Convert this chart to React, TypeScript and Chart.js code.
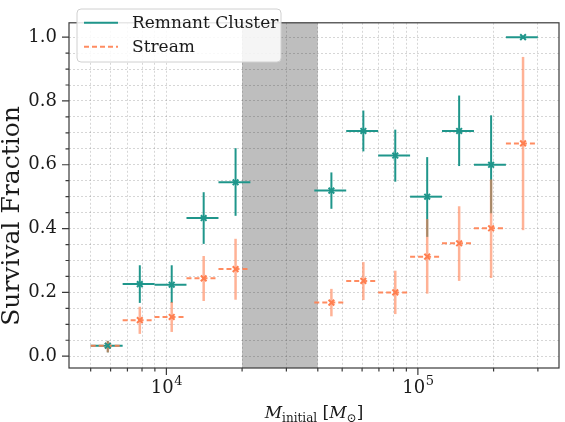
import { useEffect, useRef } from "react";
import { Chart, registerables } from "chart.js";

Chart.register(...registerables);

// mass bins (solar masses): centre and edges of each bin
const BIN_CENTERS = [5850, 7840, 10500, 14070, 18840, 45300, 60700, 81300, 108900, 145900, 195500, 261900];
const BIN_LOW = [5000, 6700, 8970, 12020, 16110, 38730, 51880, 69500, 93110, 124700, 167100, 223900];
const BIN_HIGH = [6700, 8970, 12020, 16110, 21580, 51880, 69500, 93110, 124700, 167100, 223900, 299900];

const REMNANT_FRAC = [0.033, 0.226, 0.224, 0.433, 0.545, 0.519, 0.706, 0.629, 0.5, 0.706, 0.6, 1.0];
const REMNANT_LOW = [0.012, 0.167, 0.167, 0.352, 0.44, 0.462, 0.642, 0.547, 0.374, 0.596, 0.448, 1.0];
const REMNANT_HIGH = [0.048, 0.285, 0.285, 0.514, 0.652, 0.576, 0.77, 0.71, 0.624, 0.817, 0.755, 1.0];

const STREAM_FRAC = [0.033, 0.113, 0.123, 0.244, 0.273, 0.168, 0.236, 0.2, 0.312, 0.354, 0.401, 0.667];
const STREAM_LOW = [0.012, 0.07, 0.076, 0.173, 0.177, 0.125, 0.176, 0.132, 0.196, 0.236, 0.245, 0.395];
const STREAM_HIGH = [0.048, 0.155, 0.17, 0.314, 0.368, 0.211, 0.295, 0.268, 0.43, 0.47, 0.554, 0.938];

const EXCLUDED_RANGE = [20000, 40000];

const X_TICKS = [
  5000, 6000, 7000, 8000, 9000, 10000, 20000, 30000, 40000, 50000, 60000, 70000, 80000, 90000,
  100000, 200000, 300000,
];
// value -> [base, exponent]
const X_LABELS: Record<number, [string, string]> = { 10000: ["10", "4"], 100000: ["10", "5"] };

const TEAL = "#1f968b";
const ORANGE = "rgba(255,127,80,0.9)";
const ORANGE_LIGHT = "rgba(255,127,80,0.6)";
const FRAME = "#3a3a3a";
const TEXT = "#1a1a1a";
const SERIF = "'DejaVu Serif', serif";

const isMajorY = (v: number) => Math.abs(v * 5 - Math.round(v * 5)) < 1e-6;
const isMajorX = (v: number) => Math.abs(Math.log10(v) - Math.round(Math.log10(v))) < 1e-6;

const bandPlugin = {
  id: "band",
  beforeDraw(chart: any) {
    const { ctx, chartArea } = chart;
    const x = chart.scales.x;
    const x0 = x.getPixelForValue(EXCLUDED_RANGE[0]);
    const x1 = x.getPixelForValue(EXCLUDED_RANGE[1]);
    ctx.save();
    ctx.fillStyle = "#bebebe";
    ctx.fillRect(x0, chartArea.top, x1 - x0, chartArea.bottom - chartArea.top);
    ctx.restore();
  },
};

function drawErrors(
  chart: any,
  ys: number[],
  lows: number[],
  highs: number[],
  vColor: string,
  hColor: string,
  vWidth: number,
  hDash: number[]
) {
  const { ctx } = chart;
  const x = chart.scales.x;
  const y = chart.scales.y;
  ctx.save();
  for (let i = 0; i < BIN_CENTERS.length; i++) {
    const px = x.getPixelForValue(BIN_CENTERS[i]);
    const py = y.getPixelForValue(ys[i]);
    ctx.lineCap = "butt";
    ctx.strokeStyle = vColor;
    ctx.lineWidth = vWidth;
    ctx.setLineDash([]);
    ctx.beginPath();
    ctx.moveTo(px, y.getPixelForValue(lows[i]));
    ctx.lineTo(px, y.getPixelForValue(highs[i]));
    ctx.stroke();
    ctx.strokeStyle = hColor;
    ctx.lineWidth = 2;
    ctx.setLineDash(hDash);
    ctx.beginPath();
    ctx.moveTo(x.getPixelForValue(BIN_LOW[i]), py);
    ctx.lineTo(x.getPixelForValue(BIN_HIGH[i]), py);
    ctx.stroke();
  }
  ctx.restore();
}

const errorPlugin = {
  id: "errors",
  beforeDatasetsDraw(chart: any) {
    drawErrors(chart, REMNANT_FRAC, REMNANT_LOW, REMNANT_HIGH, TEAL, TEAL, 2, []);
    drawErrors(chart, STREAM_FRAC, STREAM_LOW, STREAM_HIGH, ORANGE_LIGHT, ORANGE, 2.5, [5, 3]);
  },
};

const framePlugin = {
  id: "frame",
  afterDraw(chart: any) {
    const { ctx, chartArea } = chart;
    const { left, right, top, bottom } = chartArea;
    const x = chart.scales.x;
    const y = chart.scales.y;
    ctx.save();
    ctx.strokeStyle = FRAME;
    ctx.lineWidth = 1.2;
    ctx.strokeRect(left, top, right - left, bottom - top);

    // outward tick marks
    ctx.beginPath();
    for (const t of x.ticks) {
      const px = x.getPixelForValue(t.value);
      const len = isMajorX(t.value) ? 7 : 3.5;
      ctx.moveTo(px, bottom);
      ctx.lineTo(px, bottom + len);
    }
    for (const t of y.ticks) {
      const py = y.getPixelForValue(t.value);
      const len = isMajorY(t.value) ? 7 : 3.5;
      ctx.moveTo(left, py);
      ctx.lineTo(left - len, py);
    }
    ctx.stroke();

    ctx.fillStyle = TEXT;

    // x tick labels 10^n
    ctx.textBaseline = "alphabetic";
    for (const t of x.ticks) {
      const lab = X_LABELS[t.value];
      if (!lab) continue;
      const px = x.getPixelForValue(t.value);
      ctx.font = `18px ${SERIF}`;
      const wb = ctx.measureText(lab[0]).width;
      ctx.font = `13px ${SERIF}`;
      const we = ctx.measureText(lab[1]).width;
      const sx = px - (wb + we) / 2;
      ctx.textAlign = "left";
      ctx.font = `18px ${SERIF}`;
      ctx.fillText(lab[0], sx, bottom + 25);
      ctx.font = `13px ${SERIF}`;
      ctx.fillText(lab[1], sx + wb + 0.5, bottom + 17);
    }

    // y title
    ctx.font = `25px ${SERIF}`;
    ctx.textAlign = "center";
    ctx.textBaseline = "middle";
    ctx.save();
    ctx.translate(12.5, 216);
    ctx.rotate(-Math.PI / 2);
    ctx.fillText("Survival Fraction", 0, 0);
    ctx.restore();

    // x title: M_initial [M_sun]
    const base = 418;
    const big = `italic 17px ${SERIF}`;
    const small = `12px ${SERIF}`;
    const roman = `17px ${SERIF}`;
    const parts: [string, string, number][] = [
      ["M", big, 0],
      ["initial", small, 4],
      [" [", roman, 0],
      ["M", big, 0],
      ["⊙", small, 4],
      ["]", roman, 0],
    ];
    ctx.textAlign = "left";
    ctx.textBaseline = "alphabetic";
    let total = 0;
    for (const [s, f] of parts) {
      ctx.font = f;
      total += ctx.measureText(s).width;
    }
    let cx = (left + right) / 2 - total / 2;
    for (const [s, f, dy] of parts) {
      ctx.font = f;
      ctx.fillText(s, cx, base + dy);
      cx += ctx.measureText(s).width;
    }

    // legend
    const lx = 77;
    const ly = 9;
    const lw = 204;
    const lh = 53;
    ctx.fillStyle = "rgba(255,255,255,0.85)";
    ctx.strokeStyle = "#d0d0d0";
    ctx.lineWidth = 1;
    ctx.beginPath();
    ctx.roundRect(lx, ly, lw, lh, 4);
    ctx.fill();
    ctx.stroke();
    const rows: [string, string, number[]][] = [
      ["Remnant Cluster", TEAL, []],
      ["Stream", ORANGE, [5, 3]],
    ];
    rows.forEach(([label, color, dash], i) => {
      const ry = 22.7 + i * 24;
      ctx.strokeStyle = color;
      ctx.lineWidth = 2;
      ctx.setLineDash(dash);
      ctx.beginPath();
      ctx.moveTo(84, ry);
      ctx.lineTo(118, ry);
      ctx.stroke();
      ctx.setLineDash([]);
      ctx.fillStyle = TEXT;
      ctx.font = `17px ${SERIF}`;
      ctx.textBaseline = "middle";
      ctx.fillText(label, 132, ry + 1);
    });
    ctx.restore();
  },
};

export default function App() {
  const canvasRef = useRef<HTMLCanvasElement>(null);
  const chartRef = useRef<Chart | null>(null);

  useEffect(() => {
    document.body.style.margin = "0";
    if (!canvasRef.current) return;
    const ctx = canvasRef.current.getContext("2d");
    if (!ctx) return;

    if (chartRef.current) {
      chartRef.current.destroy();
    }

    chartRef.current = new Chart(ctx, {
      type: "scatter",
      data: {
        datasets: [
          {
            label: "Remnant Cluster",
            data: BIN_CENTERS.map((x, i) => ({ x, y: REMNANT_FRAC[i] })),
            pointStyle: "crossRot",
            pointRadius: 4,
            borderWidth: 2,
            borderColor: TEAL,
            backgroundColor: TEAL,
          },
          {
            label: "Stream",
            data: BIN_CENTERS.map((x, i) => ({ x, y: STREAM_FRAC[i] })),
            pointStyle: "crossRot",
            pointRadius: 4,
            borderWidth: 2,
            borderColor: "#ff7f50",
            backgroundColor: "#ff7f50",
          },
        ],
      },
      options: {
        animation: false,
        responsive: false,
        layout: { padding: { top: 2, right: 3, left: 0, bottom: 0 } },
        plugins: { legend: { display: false }, tooltip: { enabled: false } },
        scales: {
          x: {
            type: "logarithmic",
            min: 4100,
            max: 364000,
            afterBuildTicks: (s: any) => {
              s.ticks = X_TICKS.map((v) => ({ value: v, major: isMajorX(v) }));
            },
            afterFit: (s: any) => {
              s.height = 54;
            },
            ticks: {
              autoSkip: false,
              maxRotation: 0,
              padding: 8,
              color: TEXT,
              font: { family: SERIF, size: 18 },
              callback: () => "",
            },
            grid: { color: "rgba(0,0,0,0.16)", lineWidth: 1, drawTicks: false },
            border: { display: false, dash: [2, 2] },
          },
          y: {
            type: "linear",
            min: -0.037,
            max: 1.045,
            afterFit: (s: any) => {
              s.width = 69;
            },
            ticks: {
              stepSize: 0.05,
              includeBounds: false,
              autoSkip: false,
              padding: 12,
              color: TEXT,
              font: { family: SERIF, size: 18 },
              callback: (v: any) => (isMajorY(Number(v)) ? Number(v).toFixed(1) : ""),
            },
            grid: { color: "rgba(0,0,0,0.16)", lineWidth: 1, drawTicks: false },
            border: { display: false, dash: [2, 2] },
          },
        },
      },
      plugins: [bandPlugin, errorPlugin, framePlugin],
    });

    return () => {
      chartRef.current?.destroy();
      chartRef.current = null;
    };
  }, []);

  return <canvas ref={canvasRef} width={565} height={422} style={{ display: "block" }} />;
}
